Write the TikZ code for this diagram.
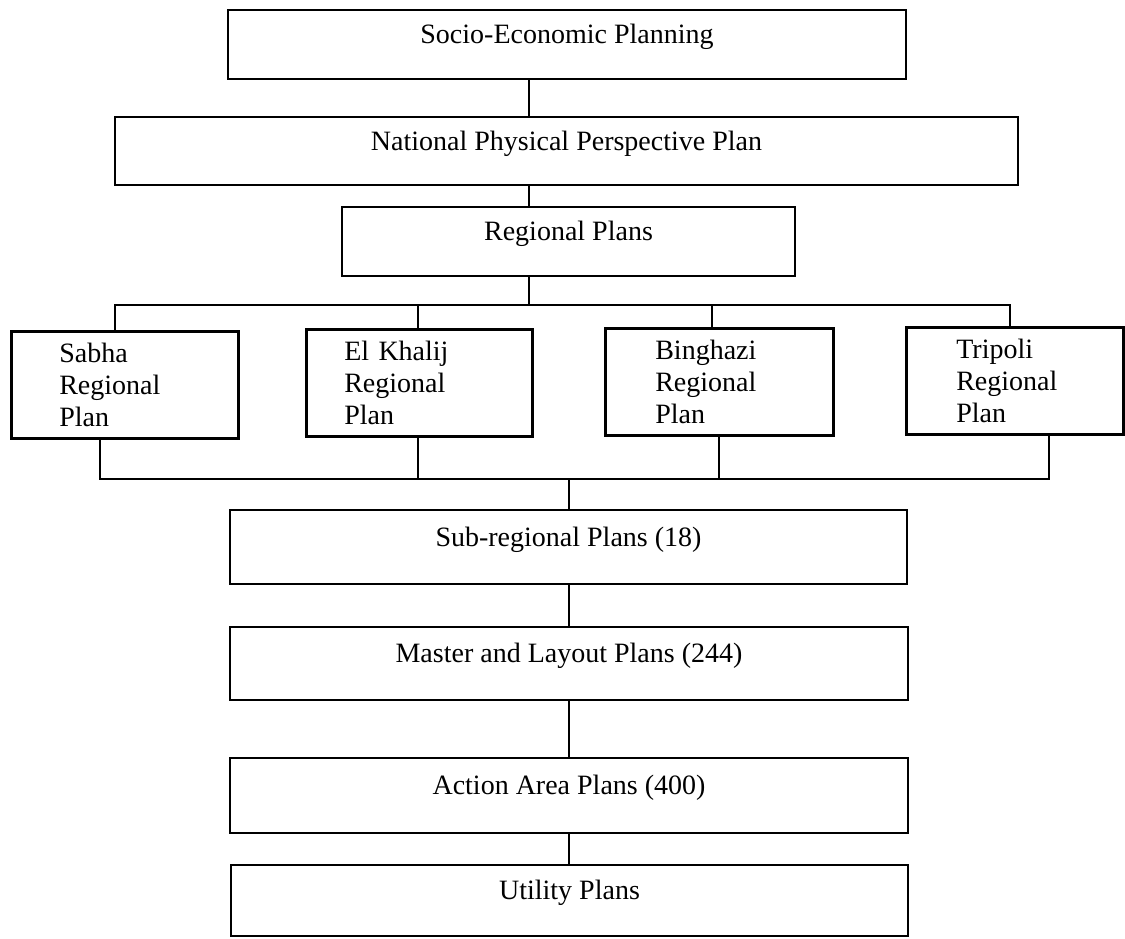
\documentclass[tikz,border=0pt]{standalone}
\usepackage{fontspec}
\setmainfont{Liberation Serif}
\begin{document}
\begin{tikzpicture}[x=1pt,y=-1pt,line width=2.6pt,
  lbl/.style={font=\fontsize{28}{32}\selectfont},
  box/.style={lbl,draw,rectangle,inner sep=0pt,text height=20pt,text depth=22pt},
  rbox/.style={lbl,draw,rectangle,inner ysep=0pt,align=left,anchor=north west,minimum height=107pt}]
\fill[white] (0,0) rectangle (1125,939);
\useasboundingbox (0,0) rectangle (1125,939);
% main column
\node[box,minimum width=678pt,minimum height=69pt] (b1) at (567,44.5) {Socio-Economic Planning};
\node[box,minimum width=903pt,minimum height=68pt] (b2) at (566.5,151) {National Physical Perspective Plan};
\node[box,minimum width=453pt,minimum height=69pt] (b3) at (568.5,241.5) {Regional Plans};
% regional plans
\node[rbox,inner xsep=48pt,text width=131pt] (sabha) at (10,330) {Sabha\\Regional\\Plan};
\node[rbox,inner xsep=38pt,text width=150pt] (elk) at (305,328) {El Khalij\\Regional\\Plan};
\node[rbox,inner xsep=50pt,text width=128pt] (bing) at (604,327) {Binghazi\\Regional\\Plan};
\node[rbox,inner xsep=50pt,text width=117pt] (trip) at (905,326) {Tripoli\\Regional\\Plan};
% lower column
\node[box,minimum width=677pt,minimum height=74pt] (sub) at (568.5,547) {Sub-regional Plans (18)};
\node[box,minimum width=678pt,minimum height=73pt] (mast) at (569,663.5) {Master and Layout Plans (244)};
\node[box,minimum width=678pt,minimum height=75pt] (act) at (569,795.5) {Action Area Plans (400)};
\node[box,minimum width=677pt,minimum height=71pt] (util) at (569.5,900.5) {Utility Plans};
% helper coordinates
\coordinate (xa) at (529,0);
\coordinate (xb) at (569,0);
\coordinate (tb) at (0,305);
\coordinate (bb) at (0,479);
\coordinate (s1) at (115,0);
\coordinate (s2) at (418,0);
\coordinate (s3) at (712,0);
\coordinate (s4) at (1010,0);
\coordinate (d1) at (100,0);
\coordinate (d2) at (418,0);
\coordinate (d3) at (719,0);
\coordinate (d4) at (1049,0);
% connectors
\draw (xa |- b1.south) -- (xa |- b2.north);
\draw (xa |- b2.south) -- (xa |- b3.north);
\draw (xa |- b3.south) -- (xa |- tb);
\draw (s1 |- sabha.north) |- (s4 |- tb) -- (s4 |- trip.north);
\draw (s2 |- elk.north) -- (s2 |- tb);
\draw (s3 |- bing.north) -- (s3 |- tb);
\draw (d1 |- sabha.south) |- (d4 |- bb) -- (d4 |- trip.south);
\draw (d2 |- elk.south) -- (d2 |- bb);
\draw (d3 |- bing.south) -- (d3 |- bb);
\draw (xb |- bb) -- (xb |- sub.north);
\draw (xb |- sub.south) -- (xb |- mast.north);
\draw (xb |- mast.south) -- (xb |- act.north);
\draw (xb |- act.south) -- (xb |- util.north);
\end{tikzpicture}
\end{document}
